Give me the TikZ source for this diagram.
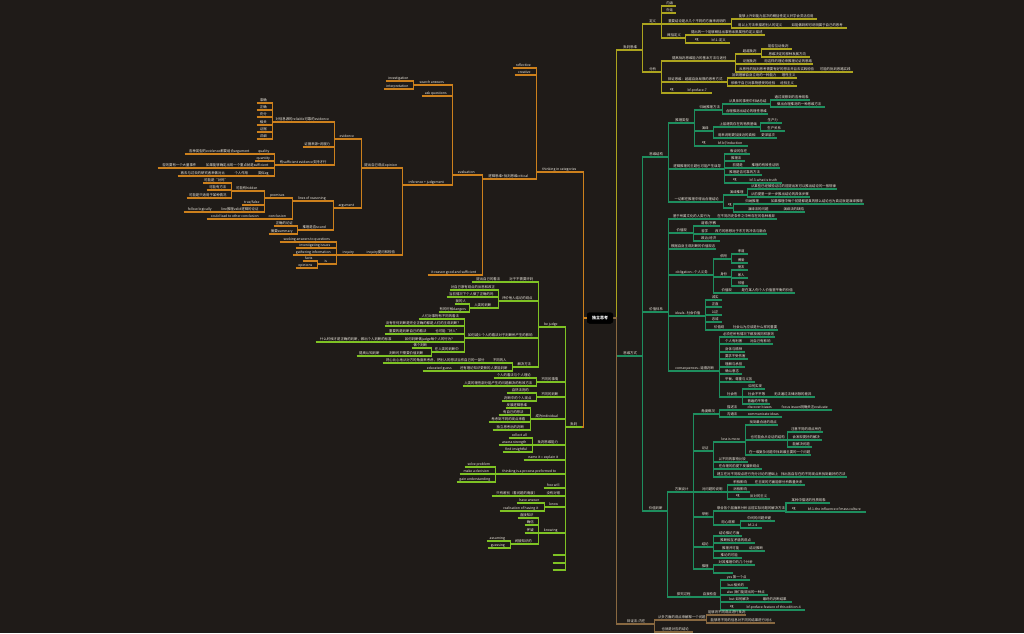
\documentclass[tikz,border=0pt]{standalone}
\usepackage{fontspec}
\newfontfamily\cjk{Noto Sans CJK SC}
\definecolor{bg}{RGB}{31,27,24}
\definecolor{txt}{RGB}{240,236,226}
\definecolor{olv}{RGB}{172,164,30}
\definecolor{grn}{RGB}{30,142,94}
\definecolor{brn}{RGB}{136,104,64}
\definecolor{org}{RGB}{204,128,28}
\definecolor{lim}{RGB}{126,194,36}
\tikzset{
  ln/.style={draw=#1, line width=1.2pt},
  tp/.style={font=\cjk\fontsize{3.4}{4}\selectfont, text=txt, inner xsep=0.8pt, inner ysep=0.8pt,
    minimum height=4.8pt,
    append after command={(\tikzlastnode.south west) edge[ln=#1] (\tikzlastnode.south east)}},
  rootbox/.style={fill=black, rounded corners=2.5pt, text=white, font=\cjk\bfseries\fontsize{4}{5}\selectfont,
    minimum width=26pt, minimum height=11pt, inner sep=1pt},
}
% a topic growing to the right / left of its parent: parent, name, left x, right x, line y, text
\newcommand\topR[5]{\pgfmathsetmacro\tw{#3-#2}\node[tp=\brc, anchor=south west, minimum width=\tw pt] (#1) at (#2,#4) {#5};}
\newcommand\topL[5]{\pgfmathsetmacro\tw{#3-#2}\node[tp=\brc, anchor=south east, minimum width=\tw pt] (#1) at (#3,#4) {#5};}
\newcommand\kR[6]{\topR{#2}{#3}{#4}{#5}{#6}\draw[ln=\brc] (#1.south east) |- (#2.south west);}
\newcommand\kL[6]{\topL{#2}{#3}{#4}{#5}{#6}\draw[ln=\brc] (#1.south west) |- (#2.south east);}
\begin{document}
\begin{tikzpicture}[x=1pt,y=-1pt]
\fill[bg] (0,0) rectangle (1024,633);
\useasboundingbox (0,0) rectangle (1024,633);

\node[rootbox] (root) at (600,318) {独立思考};

% ---------- right, upper branch ----------
\def\brc{olv}
\topR{r1}{618}{642}{50}{批判思维}
\draw[ln=olv] (root.east) -- ++(3,0) |- (r1.south west);
\kR{r1}{r1a}{644}{661}{24}{定义}
\kR{r1}{r1b}{644}{661}{72}{分析}
\kR{r1a}{r1a1}{663}{676}{6}{内涵}
\kR{r1a}{r1a2}{663}{676}{13}{外延}
\kR{r1a}{r1a3}{663}{731}{24}{重要结论是从几个不同的方面来说明的}
\kR{r1a}{r1a4}{663}{685}{38}{概括定义}
\kR{r1a3}{r1a3a}{735}{817}{19}{能够上升到能力层次的概括性定义并学会灵活应用}
\kR{r1a3}{r1a3b}{735}{785}{28}{用以上方法来描述别人的定义}
\kR{r1a3b}{r1a3c}{787}{847}{28}{如能做到即可说明属于自己的思考}
\kR{r1a4}{r1a4a}{688}{765}{35}{提出的一个能够概括出事物本质属性的定义描述}
\kR{r1a4}{r1a4b}{688}{705}{43}{eg}
\kR{r1a4b}{r1a4c}{707}{730}{43}{bf-1-定义}
\kR{r1b}{r1b1}{663}{735}{61}{提高批判思维能力的基本方法与途径}
\kR{r1b}{r1b2}{663}{727}{82}{辩证思维：超越自身局限的思考方式}
\kR{r1b}{r1b3}{663}{680}{93}{eg}
\kR{r1b3}{r1b3a}{682}{712}{93}{bf-preface-7}
\kR{r1b1}{r1b1a}{738}{761}{54}{超越批判}
\kR{r1b1}{r1b1b}{738}{761}{64}{论据批判}
\kR{r1b1}{r1b1c}{738}{815}{72}{反思性的批判思考需要有好的想法并且去实践检验}
\kR{r1b1a}{r1b1a1}{764}{792}{49}{能否互动批判}
\kR{r1b1a}{r1b1a2}{764}{810}{57}{思维决定的那种发展方向}
\kR{r1b1b}{r1b1b1}{763}{813}{64}{用这样的理论来推理论证的思路}
\kR{r1b1c}{r1b1c1}{817}{853}{72}{可能的批判思路实践}
\kR{r1b2}{r1b2a}{730}{778}{78}{回到理解自身立场的一种能力}
\kR{r1b2a}{r1b2a1}{780}{797}{78}{理性主义}
\kR{r1b2}{r1b2b}{730}{775}{86}{依赖于自己对事物感受的经验}
\kR{r1b2b}{r1b2b1}{777}{797}{86}{经验主义}

% ---------- right, middle branch ----------
\def\brc{grn}
\topR{r2}{618}{642}{356}{思维方式}
\draw[ln=grn] (root.east) -- ++(3,0) |- (r2.south west);
\kR{r2}{g1}{644}{668}{157}{思维结构}
\kR{r2}{g2}{644}{668}{312}{价值体系}
\kR{r2}{g3}{644}{667}{511}{价值判断}
\kR{g1}{g1a}{670}{694}{123}{推理类型}
\kR{g1}{g1b}{670}{724}{169}{逻辑推理的主题也可能产生误导}
\kR{g1}{g1c}{670}{723}{202}{一切都在推理中得出合理结论}
\kR{g1a}{g1a1}{697}{722}{110}{归纳推理方法}
\kR{g1a}{g1a2}{697}{713}{131}{演绎}
\kR{g1a}{g1a3}{697}{710}{146}{eg}
\kR{g1a1}{g1a1a}{725}{770}{104}{从具体的事例中归纳总结}
\kR{g1a1}{g1a1b}{725}{765}{114}{合理推测出结论的理性思维}
\kR{g1a1a}{g1a1a1}{773}{810}{100}{通过观察到的各种现象}
\kR{g1a1a}{g1a1a2}{773}{825}{107}{做出合理推测的一种思维方法}
\kR{g1a2}{g1a2a}{716}{760}{127}{上层建筑存在的物质基础}
\kR{g1a2a}{g1a2a1}{763}{782}{123}{生产力}
\kR{g1a2a}{g1a2a2}{763}{785}{131}{生产关系}
\kR{g1a2}{g1a2b}{716}{757}{138}{用来说明更加接近的真相}
\kR{g1a2b}{g1a2b1}{759}{777}{138}{更深层次}
\kR{g1a3}{g1a3a}{712}{748}{146}{bf-bf/induction}
\kR{g1b}{g1b1}{727}{750}{154}{假设的存在}
\kR{g1b}{g1b2}{727}{745}{161}{推理法}
\kR{g1b}{g1b3}{727}{748}{168}{前提是}
\kR{g1b3}{g1b3a}{750}{780}{168}{推理的有效性证明}
\kR{g1b}{g1b4}{727}{762}{175}{推理是否可靠的方法}
\kR{g1b}{g1b5}{727}{742}{183}{eg}
\kR{g1b5}{g1b5a}{744}{782}{183}{bf-3-what is truth}
\kR{g1c}{g1c1}{726}{747}{195}{演绎推理}
\kR{g1c1}{g1c1a}{750}{832}{189}{从某些已经被验证过的前提出发可以推出结论的一般规律}
\kR{g1c1}{g1c1b}{750}{807}{197}{从前提里一步一步推出结论的具体步骤}
\kR{g1c}{g1c2}{726}{733}{208}{eg}
\kR{g1c2}{g1c2a}{736}{768}{204}{归纳推理}
\kR{g1c2a}{g1c2a1}{770}{862}{204}{如果推理中每个前提都是真的那么结论也为真这就是演绎推理}
\kR{g1c2}{g1c2b}{736}{780}{212}{演绎法的问题}
\kR{g1c2b}{g1c2b1}{782}{805}{212}{演绎法的缺陷}
\kR{g2}{g2a}{670}{713}{219}{基于所属文化的人类行为}
\kR{g2a}{g2a1}{715}{777}{219}{在不同历史条件之中所存在的各种差异}
\kR{g2}{g2b}{670}{693}{233}{价值观}
\kR{g2b}{g2b1}{697}{720}{226}{道德/宗教}
\kR{g2b}{g2b2}{697}{712}{234}{哲学}
\kR{g2b2}{g2b2a}{714}{767}{234}{西方的思想对于东方的冲击与融合}
\kR{g2b}{g2b3}{697}{720}{241}{政治/经济}
\kR{g2}{g2c}{670}{715}{249}{根据自身主观判断的价值观念}
\kR{g2}{g2d}{670}{713}{275}{obligation--个人义务}
\kR{g2d}{g2d1}{716}{731}{259}{依附}
\kR{g2d1}{g2d1a}{734}{748}{254}{孝道}
\kR{g2d1}{g2d1b}{734}{748}{263}{博爱}
\kR{g2d}{g2d2}{716}{731}{277}{身份}
\kR{g2d2}{g2d2a}{734}{748}{270}{朋友}
\kR{g2d2}{g2d2b}{734}{748}{278}{家人}
\kR{g2d2}{g2d2c}{734}{748}{286}{邻居}
\kR{g2d}{g2d3}{716}{737}{293}{价值观}
\kR{g2d3}{g2d3a}{739}{795}{293}{是在某人你个人价值里平衡的价值}
\kR{g2}{g2e}{670}{705}{316}{ideals--社会价值}
\kR{g2e}{g2e1}{708}{722}{300}{诚实}
\kR{g2e}{g2e2}{708}{722}{307}{正直}
\kR{g2e}{g2e3}{708}{722}{315}{公正}
\kR{g2e}{g2e4}{708}{722}{322}{忠诚}
\kR{g2e}{g2e5}{708}{730}{330}{价值观}
\kR{g2e5}{g2e5a}{732}{777}{330}{社会认为应该是什么样的重要}
\kR{g2}{g2f}{670}{719}{371}{consequences--道德判断}
\kR{g2f}{g2f1}{722}{772}{337}{必须在所有情况下都按照同样原则}
\kR{g2f}{g2f2}{722}{745}{344}{个人有利害}
\kR{g2f2}{g2f2a}{747}{773}{344}{对自己有影响}
\kR{g2f}{g2f3}{722}{745}{352}{身体与精神}
\kR{g2f}{g2f4}{722}{748}{359}{要求不受伤害}
\kR{g2f}{g2f5}{722}{745}{367}{理解与承担}
\kR{g2f}{g2f6}{722}{742}{374}{确认意志}
\kR{g2f}{g2f7}{722}{755}{382}{平衡、尊重与义务}
\kR{g2f}{g2f8}{722}{742}{397}{社会性}
\kR{g2f8}{g2f8a}{745}{765}{389}{如何实现}
\kR{g2f8}{g2f8b}{745}{768}{397}{社会不平等}
\kR{g2f8b}{g2f8b1}{770}{815}{397}{无法通过法律消除的差异}
\kR{g2f8}{g2f8c}{745}{770}{404}{普遍的平等性}
\kR{g3}{g3a}{670}{693}{492}{方案设计}
\kR{g3}{g3b}{670}{697}{597}{探究过程}
\kR{g3a}{g3a1}{697}{719}{414}{角度概况}
\kR{g3a1}{g3a1a}{722}{742}{410}{描述法}
\kR{g3a1a}{g3a1a1}{744}{775}{410}{discover biases}
\kR{g3a1a1}{g3a1a2}{777}{832}{410}{focus issues明确关注evaluate}
\kR{g3a1}{g3a1b}{722}{742}{417}{沟通法}
\kR{g3a1b}{g3a1b1}{744}{782}{417}{communicate ideas}
\kR{g3a}{g3a2}{697}{713}{451}{论证}
\kR{g3a2}{g3a2a}{716}{745}{442}{less is more}
\kR{g3a2a}{g3a2a1}{748}{778}{425}{找到最合适的观点}
\kR{g3a2a}{g3a2a2}{748}{787}{440}{也可能会从论证的结构}
\kR{g3a2a2}{g3a2a2a}{790}{822}{432}{注意不同的观点所在}
\kR{g3a2a2}{g3a2a2b}{790}{822}{440}{会发现更好的解决}
\kR{g3a2a2}{g3a2a2c}{790}{812}{447}{能解决问题}
\kR{g3a2a}{g3a2a3}{748}{807}{455}{在一堆复杂问题中找到最主要的一个问题}
\kR{g3a2}{g3a2b}{716}{748}{462}{以不同的事物比较}
\kR{g3a2}{g3a2c}{716}{762}{469}{在合理的前提下发展新观点}
\kR{g3a2}{g3a2d}{716}{778}{477}{建立在对不同观点进行充分讨论的基础上}
\kR{g3a2d}{g3a2d1}{780}{845}{477}{找出各自存在的不同观点来找到最好的方法}
\kR{g3a}{g3a3}{697}{727}{492}{对问题的说明}
\kR{g3a3}{g3a3a}{730}{750}{485}{积极影响}
\kR{g3a3a}{g3a3a1}{752}{805}{485}{在主观的方面能够分析数量关系}
\kR{g3a3}{g3a3b}{730}{750}{492}{消极影响}
\kR{g3a3}{g3a3c}{730}{745}{499}{eg}
\kR{g3a3c}{g3a3c1}{747}{770}{499}{反对的主义}
\kR{g3a}{g3a4}{697}{713}{517}{举例}
\kR{g3a4}{g3a4a}{716}{784}{511}{联合各个层面来分析当前实际问题的解决方法}
\kR{g3a4a}{g3a4a1}{787}{830}{503}{某种中描述的性质现象}
\kR{g3a4a}{g3a4a2}{787}{800}{512}{eg}
\kR{g3a4a2}{g3a4a3}{802}{866}{512}{bf-1-the influence of mass culture}
\kR{g3a4}{g3a4b}{716}{740}{525}{用心观察}
\kR{g3a4b}{g3a4b1}{743}{775}{521}{中间的问题关键}
\kR{g3a4b}{g3a4b2}{743}{762}{528}{bf-2-4}
\kR{g3a}{g3a5}{697}{713}{547}{结论}
\kR{g3a5}{g3a5a}{716}{742}{536}{结论推论方面}
\kR{g3a5}{g3a5b}{716}{755}{543}{推断相互矛盾的观点}
\kR{g3a5}{g3a5c}{716}{745}{551}{推理并可能}
\kR{g3a5c}{g3a5c1}{747}{765}{551}{结论推断}
\kR{g3a5}{g3a5d}{716}{742}{558}{推论的可能}
\kR{g3a}{g3a6}{697}{713}{569}{推理}
\kR{g3a6}{g3a6a}{716}{755}{565}{对其推理中的几个分析}
\kR{g3a6}{g3a6b}{716}{733}{573}{}
\kR{g3b}{g3b1}{699}{720}{597}{自我检查}
\kR{g3b1}{g3b1a}{723}{750}{580}{yes 第一个点}
\kR{g3b1}{g3b1b}{723}{748}{588}{but 相关的}
\kR{g3b1}{g3b1c}{723}{768}{595}{also 我们能提出的一种点}
\kR{g3b1}{g3b1d}{723}{755}{602}{but 如何解决}
\kR{g3b1d}{g3b1d1}{757}{792}{602}{最终的判断结果}
\kR{g3b1}{g3b1e}{723}{740}{610}{eg}
\kR{g3b1e}{g3b1e1}{742}{805}{610}{bf-preface-feature of this edition-4}

% ---------- right, lower branch ----------
\def\brc{brn}
\topR{r3}{618}{654}{624}{辩证法-内在}
\draw[ln=brn] (root.east) -- ++(3,0) |- (r3.south west);
\kR{r3}{b1}{657}{704}{620}{从多方面的观点来解释一个问题}
\kR{b1}{b1a}{707}{745}{615}{能够将不同观点进行批判}
\kR{b1}{b1b}{707}{775}{623}{能够将不同的信息对不同的结果进行对比}
\kR{r3}{b2}{657}{693}{632}{也就是对应的结论}

% ---------- left, upper branch ----------
\def\brc{org}
\topL{L1}{537}{582}{172}{thinking in categories}
\draw[ln=org] (root.west) -- ++(-3,0) |- (L1.south east);
\kL{L1}{o1}{513}{534}{68}{reflective}
\kL{L1}{o2}{515}{534}{75}{creative}
\kL{L1}{o3}{483}{534}{179}{逻辑思维+批判思维critical}
\kL{o3}{o3a}{453}{480}{175}{evaluation}
\kL{o3}{o3b}{428}{480}{275}{it reason good and sufficient}
\kL{o3a}{o3a1}{414}{450}{85}{search answers}
\kL{o3a}{o3a2}{422}{450}{96}{ask questions}
\kL{o3a}{o3a3}{403}{450}{185}{inference + judgement}
\kL{o3a1}{i1}{386}{411}{81}{investigation}
\kL{o3a1}{i2}{384}{411}{89}{interpretation}
\kL{o3a3}{op}{362}{400}{168}{提出自己观点opinion}
\kL{o3a3}{iq0}{362}{400}{255}{inquiry提问和检验}
\kL{op}{ev}{335}{359}{139}{evidence}
\kL{op}{ar}{334}{359}{208}{argument}
\kL{ev}{ev1}{273}{332}{122}{对信息源的reliable可靠的evidence}
\kL{ev1}{ev1a}{257}{270}{103}{准确}
\kL{ev1}{ev1b}{257}{270}{110}{正确}
\kL{ev1}{ev1c}{257}{270}{117}{充分}
\kL{ev1}{ev1d}{257}{270}{125}{相关}
\kL{ev1}{ev1e}{257}{270}{132}{证据}
\kL{ev1}{ev1f}{257}{270}{139}{详细}
\kL{ev}{ev2}{303}{332}{147}{证据来源+说服力}
\kL{ev}{ev3}{275}{332}{165}{有sufficient evidence支持才行}
\kL{ev3}{q1}{256}{272}{154}{quality}
\kL{q1}{q1a}{185}{254}{154}{各种类型的evidence都要组合argument}
\kL{ev3}{q2}{255}{272}{161}{quantity}
\kL{ev3}{q3}{203}{272}{168}{如果能够确定出现一个重点就是sufficient}
\kL{q3}{q3a}{158}{201}{168}{否则要有一个大量事件}
\kL{ev3}{q4}{255}{272}{176}{类似eg}
\kL{q4}{q4a}{230}{253}{176}{个人作用}
\kL{q4a}{q4b}{178}{228}{176}{再去与过去的研究者来做对比}
\kL{ar}{lr}{293}{331}{201}{lines of reasoning}
\kL{ar}{sd}{298}{331}{230}{推理是否sound}
\kL{lr}{pm}{265}{290}{198}{premises}
\kL{lr}{cc}{265}{290}{219}{conclusion}
\kL{cc}{cca}{207}{263}{219}{could lead to other conclusion}
\kL{pm}{hd}{232}{262}{191}{可能有hidden}
\kL{hd}{hd1}{205}{229}{183}{可能是“对吗”}
\kL{hd}{hd2}{207}{229}{190}{可能有方法}
\kL{hd}{hd3}{187}{229}{198}{可能是只适用于某种情况}
\kL{pm}{tf}{242}{262}{205}{true/false}
\kL{pm}{vl}{218}{262}{212}{line推理valid逻辑的论证}
\kL{vl}{vla}{184}{216}{212}{follow logically}
\kL{sd}{sd1}{274}{295}{226}{正确的论证}
\kL{sd}{sd2}{269}{295}{234}{摘要summary}
\kL{iq0}{iq}{337}{360}{255}{inquiry}
\kL{iq}{iq1}{280}{334}{242}{seeking answers to questions}
\kL{iq}{iq2}{296}{334}{248}{investigating issues}
\kL{iq}{iq3}{293}{334}{255}{gathering information}
\kL{iq}{is}{318}{334}{264}{is}
\kL{is}{is1}{303}{315}{261}{facts}
\kL{is}{is2}{296}{315}{268}{opinions}

% ---------- left, lower branch ----------
\def\brc{lim}
\topL{L2}{566}{582}{427}{批判}
\draw[ln=org] (root.west) -- ++(-3,0) |- (L2.south east);
\kL{L2}{j1}{539}{563}{327}{be judge}
\kL{j1}{j1a}{507}{536}{282}{对于不需要评判}
\kL{j1a}{j1aa}{472}{505}{282}{提出自己的看法}
\kL{j1}{j1b}{499}{536}{301}{评价他人结论的观点}
\kL{j1b}{j1b1}{451}{496}{290}{对自己原有观点的反思和改正}
\kL{j1b}{j1b2}{447}{496}{297}{当前情况下个人做了正确的吗}
\kL{j1b}{j1b3}{470}{496}{308}{人类的判断}
\kL{j1b3}{j1b3a}{455}{467}{304}{我的人}
\kL{j1b3}{j1b3b}{439}{467}{312}{有的时候dangers}
\kL{j1}{j1c}{465}{536}{338}{如何减少个人的看法对于判断所产生的影响}
\kL{j1c}{j1c1}{419}{462}{319}{人们对事物有不同的看法}
\kL{j1c}{j1c2}{385}{462}{326}{没有任何判断是完全正确的都是人们的主观判断？}
\kL{j1c}{j1c3}{433}{462}{334}{也可能“好人”}
\kL{j1c3}{j1c3a}{385}{431}{334}{重要的是判断自己的看法}
\kL{j1c}{j1c4}{398}{462}{342}{如何判断做judge每个人的行为？}
\kL{j1c4}{j1c4a}{316}{396}{342}{什么时候才是正确的判断，做出个人判断的标准}
\kL{j1c}{j1c5}{432}{462}{352}{在人类的判断中}
\kL{j1c5}{j1c5a}{412}{429}{348}{做个判断}
\kL{j1c5}{j1c5b}{384}{429}{356}{判断时只需要价值判断}
\kL{j1c5b}{j1c5c}{357}{382}{356}{提高认知判断}
\kL{j1}{j1d}{513}{536}{367}{解决方法}
\kL{j1d}{j1d1}{490}{510}{363}{不同的人}
\kL{j1d1}{j1d1a}{383}{488}{363}{将心比心地从对方的角度来考虑，把别人的想法当作自己的一部分}
\kL{j1d}{j1d2}{458}{510}{371}{还有理论知识更新的人更能判断}
\kL{j1d2}{j1d2a}{423}{456}{371}{educated guess}
\kL{L2}{j2}{537}{563}{382}{不同的事情}
\kL{j2}{j2a}{494}{534}{378}{个人的看法与个人理论}
\kL{j2}{j2b}{463}{534}{386}{人类的理性部分能产生的问题解决的有效方法}
\kL{L2}{j3}{537}{563}{397}{不同的判断}
\kL{j3}{j3a}{507}{534}{393}{自然法则的}
\kL{j3}{j3b}{502}{534}{401}{判断中的个人观点}
\kL{L2}{j4}{531}{563}{419}{成为individual}
\kL{j4}{j4a}{506}{528}{408}{发展逻辑思维}
\kL{j4}{j4b}{499}{528}{415}{有自己的想法}
\kL{j4}{j4c}{489}{528}{422}{考虑到不同的观点来看}
\kL{j4}{j4d}{493}{528}{430}{独立思考后的判断}
\kL{L2}{j5}{533}{563}{445}{批判思维能力}
\kL{j5}{j5a}{509}{530}{438}{collect all}
\kL{j5}{j5b}{499}{530}{445}{assess strength}
\kL{j5}{j5c}{503}{530}{452}{find insightful}
\kL{L2}{j6}{524}{563}{460}{name it = explain it}
\kL{L2}{j7}{496}{563}{474}{thinking is a process preformed to}
\kL{j7}{j7a}{465}{493}{467}{solve problem}
\kL{j7}{j7b}{460}{493}{474}{make a decision}
\kL{j7}{j7c}{457}{493}{482}{gain understanding}
\kL{L2}{j8}{544}{563}{488}{free will}
\kL{L2}{j9}{544}{563}{496}{没有对错}
\kL{j9}{j9a}{492}{542}{496}{只有差别（看问题的角度）}
\kL{L2}{j10}{545}{563}{507}{know}
\kL{j10}{j10a}{517}{542}{503}{have answer}
\kL{j10}{j10b}{500}{542}{511}{realisation of having it}
\kL{L2}{j11}{539}{563}{533}{knowing}
\kL{j11}{k1}{518}{536}{518}{直接知识}
\kL{j11}{k2}{525}{536}{525}{确信}
\kL{j11}{k3}{525}{536}{533}{怀疑}
\kL{j11}{k4}{511}{536}{544}{间接知识的}
\kL{k4}{k4a}{487}{508}{541}{assuming}
\kL{k4}{k4b}{488}{508}{548}{guessing}
\kL{L2}{j12}{553}{563}{555}{}
\kL{L2}{j13}{553}{563}{563}{}
\kL{L2}{j14}{553}{563}{570}{}

\node[rootbox] at (root) {独立思考};
\end{tikzpicture}
\end{document}
